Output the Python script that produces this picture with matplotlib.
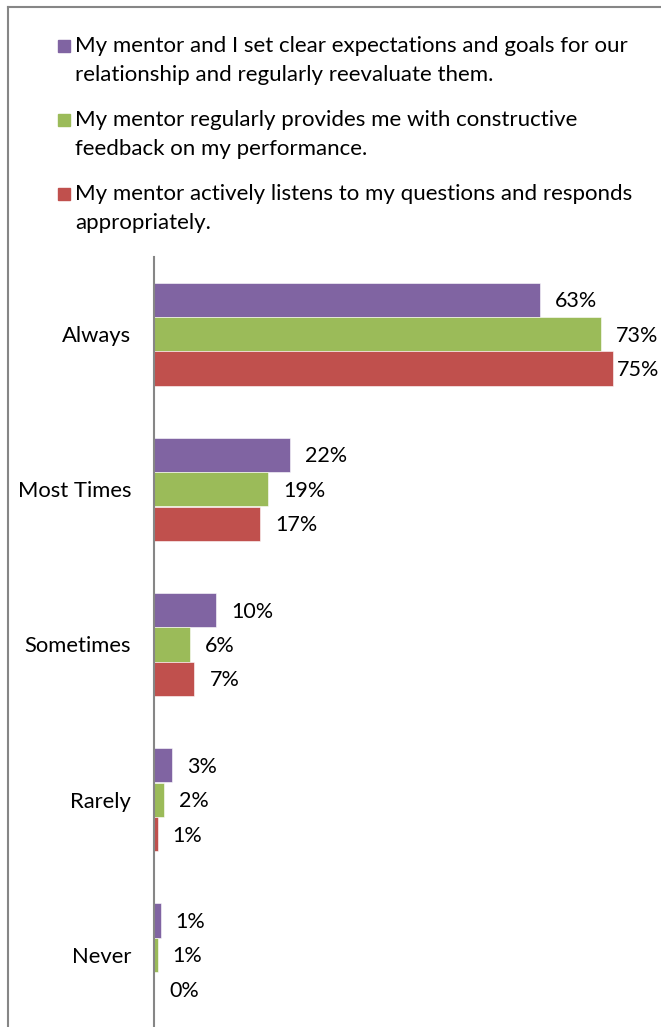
import matplotlib
matplotlib.use("Agg")
import matplotlib.pyplot as plt
from matplotlib.patches import Rectangle
from matplotlib.lines import Line2D
from matplotlib.transforms import offset_copy, blended_transform_factory

categories = ["Always", "Most Times", "Sometimes", "Rarely", "Never"]
series_names = [
    "My mentor and I set clear expectations and goals for our\nrelationship and regularly reevaluate them.",
    "My mentor regularly provides me with constructive\nfeedback on my performance.",
    "My mentor actively listens to my questions and responds\nappropriately.",
]
expectations = [0.63, 0.222, 0.101, 0.029, 0.011]
feedback = [0.73, 0.186, 0.059, 0.016, 0.006]
listens = [0.75, 0.173, 0.066, 0.006, 0.0]
colors = ["#8064A2", "#9BBB59", "#C0504D"]

W, H = 661, 1027
DPI = 100
fig = plt.figure(figsize=(W / DPI, H / DPI), dpi=DPI)
plt.rcParams["font.family"] = ["Lato", "DejaVu Sans"]
FS = 15.5
FS_CAT = 15.8
FS_LEG = 16

# axes placement in pixels
ax_left, ax_top, ax_bottom, px_per_unit = 154, 256.5, 1032.5, 612
xmax = 0.8
ax = fig.add_axes([ax_left / W, (H - ax_bottom) / H,
                   xmax * px_per_unit / W, (ax_bottom - ax_top) / H])

series = [expectations, feedback, listens]
offsets = [-0.222, 0.0, 0.222]
bh = 0.22
ypos = list(range(len(categories)))
label_cap = (617 - ax_left) / px_per_unit
lab_tr = offset_copy(ax.transData, fig=fig, x=0, y=-7.5 * 72 / DPI, units="points")
for vals, off, col in zip(series, offsets, colors):
    ys = [y + off for y in ypos]
    ax.barh(ys, vals, height=bh, color=col, edgecolor="white", linewidth=0.4)
    for y, v in zip(ys, vals):
        x = min(v + 15 / px_per_unit, label_cap)
        ax.text(x, y, f"{round(v * 100):d}%", va="baseline", ha="left",
                fontsize=FS, color="black", transform=lab_tr)

ax.set_xlim(0, xmax)
ax.set_ylim(len(categories) - 0.5, -0.5)
ax.set_yticks([])
ax.set_xticks([])
cat_tr = offset_copy(blended_transform_factory(ax.transAxes, ax.transData), fig=fig,
                     x=-23 * 72 / DPI, y=-7.8 * 72 / DPI, units="points")
for y, c in zip(ypos, categories):
    ax.text(0, y, c, ha="right", va="baseline", fontsize=FS_CAT, transform=cat_tr)
for s in ["top", "right", "bottom"]:
    ax.spines[s].set_visible(False)
ax.spines["left"].set_color("#868686")
ax.spines["left"].set_linewidth(1.5)

# legend (manual)
entry_baselines = [52, 126, 200]
line_gap = 29
for name, col, b0 in zip(series_names, colors, entry_baselines):
    fig.patches.append(Rectangle((58 / W, (H - b0) / H), 12 / W, 12 / H,
                                 transform=fig.transFigure, color=col))
    for k, line in enumerate(name.split("\n")):
        fig.text(75 / W, (H - (b0 + k * line_gap)) / H, line, ha="left",
                 va="baseline", fontsize=FS_LEG, color="black")

# outer border (left and top)
fig.add_artist(Line2D([8 / W, 8 / W], [0, (H - 7) / H], transform=fig.transFigure,
                      color="#868686", linewidth=1.5))
fig.add_artist(Line2D([8 / W, 1], [(H - 7) / H, (H - 7) / H], transform=fig.transFigure,
                      color="#868686", linewidth=1.5))

fig.savefig("out.png", dpi=DPI)
